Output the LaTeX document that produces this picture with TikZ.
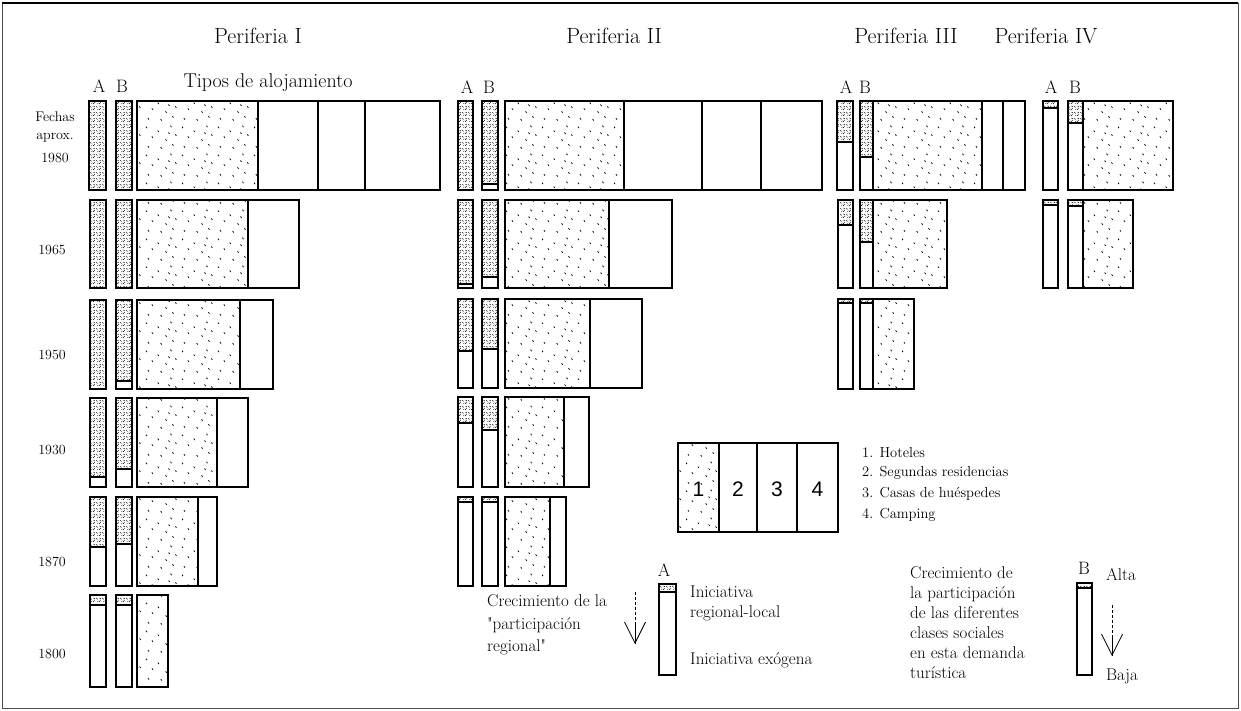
\documentclass[tikz,border=0pt]{standalone}
\usepackage{fontspec}
\newfontfamily\numfont{Liberation Sans}
\newfontfamily\plainlm[Ligatures=TeXOff]{Latin Modern Roman}
\usetikzlibrary{patterns,arrows.meta}
\pgfdeclarepatternformonly{hotelstip}{\pgfpointorigin}{\pgfpoint{36pt}{28pt}}{\pgfpoint{36pt}{28pt}}{%
  \pgfsetlinewidth{0.75pt}%
  \pgfpathmoveto{\pgfpoint{2pt}{25pt}}\pgfpathlineto{\pgfpoint{3.1pt}{23.5pt}}%
  \pgfpathmoveto{\pgfpoint{14pt}{21pt}}\pgfpathlineto{\pgfpoint{15.1pt}{19.5pt}}%
  \pgfpathmoveto{\pgfpoint{27pt}{26pt}}\pgfpathlineto{\pgfpoint{28.1pt}{24.5pt}}%
  \pgfpathmoveto{\pgfpoint{8pt}{15pt}}\pgfpathlineto{\pgfpoint{9.1pt}{13.5pt}}%
  \pgfpathmoveto{\pgfpoint{22pt}{12pt}}\pgfpathlineto{\pgfpoint{23.1pt}{10.5pt}}%
  \pgfpathmoveto{\pgfpoint{32pt}{17pt}}\pgfpathlineto{\pgfpoint{33.1pt}{15.5pt}}%
  \pgfpathmoveto{\pgfpoint{4pt}{5pt}}\pgfpathlineto{\pgfpoint{5.1pt}{3.5pt}}%
  \pgfpathmoveto{\pgfpoint{17pt}{4pt}}\pgfpathlineto{\pgfpoint{18.1pt}{2.5pt}}%
  \pgfpathmoveto{\pgfpoint{29pt}{7pt}}\pgfpathlineto{\pgfpoint{30.1pt}{5.5pt}}%
  \pgfpathmoveto{\pgfpoint{25pt}{19pt}}\pgfpathlineto{\pgfpoint{26.1pt}{17.5pt}}%
  \pgfusepath{stroke}}
\pgfdeclarepatternformonly{barstip}{\pgfpointorigin}{\pgfpoint{6pt}{6pt}}{\pgfpoint{6pt}{6pt}}{%
  \pgfsetlinewidth{0.6pt}%
  \pgfpathmoveto{\pgfpoint{0.5pt}{5.5pt}}\pgfpathlineto{\pgfpoint{1.6pt}{4pt}}%
  \pgfpathmoveto{\pgfpoint{3pt}{2.5pt}}\pgfpathlineto{\pgfpoint{4.4pt}{1.2pt}}%
  \pgfpathmoveto{\pgfpoint{4pt}{5.5pt}}\pgfpathlineto{\pgfpoint{5.4pt}{4.6pt}}%
  \pgfusepath{stroke}%
  \pgfpathcircle{\pgfpoint{1.5pt}{1.5pt}}{0.45pt}%
  \pgfpathcircle{\pgfpoint{5pt}{3pt}}{0.45pt}%
  \pgfusepath{fill}}
\tikzset{
  box/.style={line width=1.4pt, draw=black},
  hd/.style={font=\fontsize{22}{26}\selectfont, inner sep=0pt},
  ab/.style={font=\fontsize{18}{20}\selectfont, inner sep=0pt},
  yr/.style={font=\fontsize{14}{16}\selectfont, inner sep=0pt},
  lg/.style={font=\fontsize{14.5}{17}\selectfont, inner sep=0pt, anchor=west},
  txt/.style={font=\fontsize{17}{20}\selectfont, inner sep=0pt, align=left},
  num/.style={font=\numfont\fontsize{21}{24}\selectfont, inner sep=0pt},
  vhead/.style={-{Straight Barb[length=21pt,width=21pt,line width=0.8pt]}},
  shaft/.style={line width=0.6pt, dash pattern=on 3pt off 2pt}
}
% bar: x1, x2, top, bottom, shade-bottom
\newcommand\pbar[5]{%
  \fill[pattern=barstip] (#1,#3) rectangle (#2,#5);
  \draw[box] (#1,#3) rectangle (#2,#5);
  \draw[box] (#1,#3) rectangle (#2,#4);
}
% row: top, bottom, left, hotel-right, right, dividers
\newcommand\hrow[6]{%
  \fill[pattern=hotelstip] (#3,#1) rectangle (#4,#2);
  \draw[box] (#3,#1) rectangle (#5,#2);
  \foreach \xx in {#6} \draw[box] (\xx,#1) -- (\xx,#2);
}
\begin{document}
\begin{tikzpicture}[x=1pt,y=-1pt]
\useasboundingbox (0,0) rectangle (1241,711);
% frame
\draw[line width=0.5pt, black!70] (2,3) rectangle (1238,708);
\draw[line width=1.5pt] (2,3) -- (1238,3);

% headings
\node[hd] (h1) at (258,36) {Periferia I};
\node[hd] (h2) at (614,36) {Periferia II};
\node[hd] (h3) at (906,36) {Periferia III};
\node[hd] (h4) at (1046,36) {Periferia IV};
\node[font=\fontsize{20}{22}\selectfont, inner sep=0pt] (tipos) at (268,83) {Tipos de alojamiento};

% A B labels
\node[ab] (a1) at (99,86) {A};
\node[ab] (b1) at (122,86) {B};
\node[ab] (a2) at (467,87) {A};
\node[ab] (b2) at (489,87) {B};
\node[ab] (a3) at (846,87) {A};
\node[ab] (b3) at (865,87) {B};
\node[ab] (a4) at (1051,87) {A};
\node[ab] (b4) at (1075,87) {B};

% date labels
\node[yr] (fechas) at (55,117) {Fechas};
\node[yr] (aprox) at (55,138) {aprox.};
\node[yr] (y1980) at (55,158) {1980};
\node[yr] (y1965) at (52,250) {1965};
\node[yr] (y1950) at (52,355) {1950};
\node[yr] (y1930) at (52,450) {1930};
\node[yr] (y1870) at (52,562) {1870};
\node[yr] (y1800) at (52,654) {1800};

% ---------- Periferia I ----------
\pbar{89}{106}{101}{190}{190}
\pbar{116}{132}{101}{190}{190}
\hrow{101}{190}{137}{258}{440}{258,318,365}

\pbar{90}{106}{200}{288}{288}
\pbar{116}{132}{200}{288}{288}
\hrow{200}{288}{137}{248}{299}{248}

\pbar{90}{106}{300}{389}{389}
\pbar{116}{132}{300}{389}{381}
\hrow{300}{389}{137}{240}{273}{240}

\pbar{90}{106}{398}{487}{477}
\pbar{116}{132}{398}{487}{469}
\hrow{398}{487}{137}{217}{248}{217}

\pbar{90}{106}{497}{586}{547}
\pbar{116}{132}{497}{586}{544}
\hrow{497}{586}{137}{198}{217}{198}

\pbar{90}{106}{595}{687}{605}
\pbar{116}{132}{595}{687}{605}
\hrow{595}{687}{137}{168}{168}{168}

% ---------- Periferia II ----------
\pbar{458}{473}{101}{190}{190}
\pbar{482}{498}{101}{190}{184}
\hrow{101}{190}{505}{624}{822}{624,702,761}

\pbar{458}{473}{200}{288}{284}
\pbar{482}{498}{200}{288}{277}
\hrow{200}{288}{505}{609}{672}{609}

\pbar{458}{473}{299}{388}{351}
\pbar{482}{498}{299}{388}{349}
\hrow{299}{388}{505}{590}{642}{590}

\pbar{458}{473}{397}{487}{423}
\pbar{482}{498}{397}{487}{430}
\hrow{397}{487}{505}{564}{589}{564}

\pbar{458}{473}{497}{586}{502}
\pbar{482}{498}{497}{586}{502}
\hrow{497}{586}{505}{550}{566}{550}

% ---------- Periferia III ----------
\pbar{837}{853}{101}{190}{142}
\pbar{860}{873}{101}{190}{157}
\hrow{101}{190}{873}{982}{1025}{982,1003}

\pbar{838}{853}{200}{288}{225}
\pbar{860}{873}{200}{288}{242}
\hrow{200}{288}{873}{947}{947}{947}

\pbar{838}{853}{299}{389}{303}
\pbar{860}{873}{299}{389}{303}
\hrow{299}{389}{873}{914}{914}{914}

% ---------- Periferia IV ----------
\pbar{1043}{1058}{101}{190}{108}
\pbar{1068}{1083}{101}{190}{123}
\hrow{101}{190}{1083}{1173}{1173}{1173}

\pbar{1043}{1058}{200}{288}{205}
\pbar{1068}{1083}{200}{288}{206}
\hrow{200}{288}{1083}{1133}{1133}{1133}

% ---------- legend: types ----------
\hrow{443}{532}{678}{719}{838}{719,757,797}
\node[num] (n1) at (698.5,489) {1};
\node[num] (n2) at (738,489) {2};
\node[num] (n3) at (777,489) {3};
\node[num] (n4) at (817.5,489) {4};
\node[lg] (l1) at (862,453) {1. Hoteles};
\node[lg] (l2) at (862,473) {2. Segundas residencias};
\node[lg] (l3) at (862,494) {3. Casas de huéspedes};
\node[lg] (l4) at (862,515) {4. Camping};

% ---------- legend: A ----------
\node[txt, anchor=west, font=\plainlm\fontsize{17}{22.5}\selectfont] (crecA) at (487,625) {Crecimiento de la\\"participación\\regional"};
\coordinate (arA1) at (635,592);
\coordinate (arA2) at (635,644);
\draw[shaft] (arA1) -- (arA2);
\draw[vhead, line width=0.8pt, shorten <=31pt] (arA1) -- (arA2);
\node[ab] (aL) at (664,570) {A};
\pbar{659}{676}{584}{675}{592}
\node[txt, anchor=west] (iniA) at (690,603) {Iniciativa\\regional-local};
\node[txt, anchor=west] (exo) at (690,660) {Iniciativa exógena};

% ---------- legend: B ----------
\node[txt, anchor=west] (crecB) at (910,623) {Crecimiento de\\la participación\\de las diferentes\\clases sociales\\en esta demanda\\turística};
\node[ab] (bL) at (1084,568) {B};
\node[txt] (alta) at (1121,575) {Alta};
\pbar{1077}{1092}{583}{675}{588}
\coordinate (arB1) at (1112,605);
\coordinate (arB2) at (1112,656);
\draw[shaft] (arB1) -- (arB2);
\draw[vhead, line width=0.8pt, shorten <=30pt] (arB1) -- (arB2);
\node[txt] (baja) at (1122,676) {Baja};
\end{tikzpicture}
\end{document}
